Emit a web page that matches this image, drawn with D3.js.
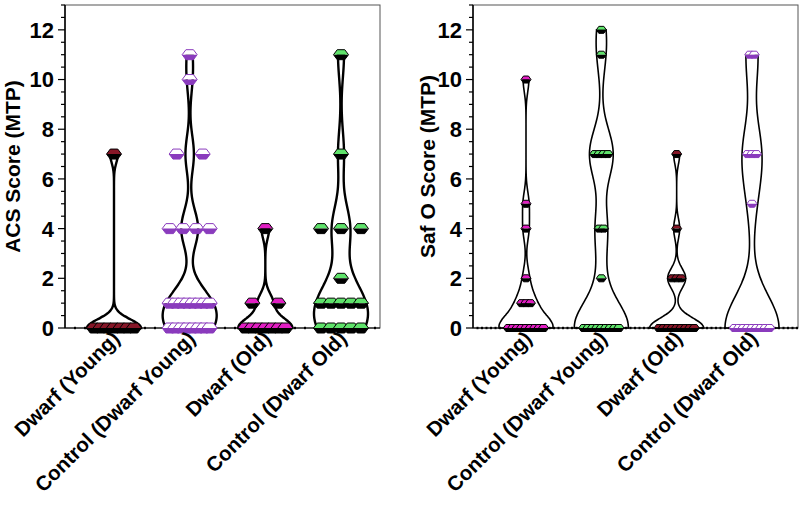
<!DOCTYPE html>
<html><head><meta charset="utf-8">
<script src="https://cdn.jsdelivr.net/npm/d3@7"></script>
<style>body{margin:0;background:#fff;} svg{display:block;} text{font-family:"Liberation Sans",Arial,sans-serif;font-weight:bold;}</style>
</head><body>
<svg id="c" width="800" height="505"></svg>
<script>
// ---- data ----
const categories = ["Dwarf (Young)", "Control (Dwarf Young)", "Dwarf (Old)", "Control (Dwarf Old)"];
const yTicks = [0, 2, 4, 6, 8, 10, 12];

const acsDwarfYoung   = [0,0,0,0,0,0,0, 7];
const acsControlYoung = [0,0,0,0,0,0,0,0, 1,1,1,1,1,1,1,1, 4,4,4,4, 7,7, 10, 11];
const acsDwarfOld     = [0,0,0,0,0,0,0, 1,1, 4];
const acsControlOld   = [0,0,0,0,0, 1,1,1,1,1, 2, 4,4,4, 7, 11];

const safDwarfYoung   = [0,0,0,0,0,0,0,0,0, 1,1,1, 2, 4, 5, 10];
const safControlYoung = [0,0,0,0,0,0,0,0,0, 2, 4,4, 7,7,7,7, 11, 12];
const safDwarfOld     = [0,0,0,0,0,0,0,0,0, 2,2,2, 4, 7];
const safControlOld   = [0,0,0,0,0,0,0,0,0, 5, 7,7,7, 11,11];

// kernel bandwidths for each violin
const acsBandwidth = [0.35, 0.75, 0.4, 0.95];
const safBandwidth = [0.5, 1.0, 0.4, 1.3];

// ---- styles ----
const C_RED = "#861627", C_PURPLE = "#8a3bbd", C_MAG = "#e21ec3", C_GREEN = "#5fe36b";
const acsStyles = [
  {fill: C_RED, dark: "#000"}, {fill: "#fff", dark: C_PURPLE},
  {fill: C_MAG, dark: "#000"}, {fill: C_GREEN, dark: "#000"}];
const safStyles = [
  {fill: C_MAG, dark: "#000"}, {fill: C_GREEN, dark: "#000"},
  {fill: C_RED, dark: "#000"}, {fill: "#fff", dark: C_PURPLE}];

const svg = d3.select("#c");

function kde(values, h, lo, hi) {
  const grid = d3.range(lo, hi + 1e-9, (hi - lo) / 120);
  return grid.map(v => ({v, d: d3.sum(values, x => Math.exp(-0.5 * ((v - x) / h) ** 2))}));
}

function hexPath(w, h) {
  return {
    top: `M${-w/2},0 L${-w/4},${-h/2} L${w/4},${-h/2} L${w/2},0 Z`,
    bottom: `M${-w/2},0 L${w/2},0 L${w/4},${h/2} L${-w/4},${h/2} Z`,
    full: `M${-w/2},0 L${-w/4},${-h/2} L${w/4},${-h/2} L${w/2},0 L${w/4},${h/2} L${-w/4},${h/2} Z`
  };
}

function panel(opt) {
  const g = svg.append("g");
  const y = d3.scaleLinear().domain([0, 13]).range([328, 5]);
  const x = d3.scalePoint().domain(categories).range(opt.centers);

  g.append("rect").attr("x", opt.left).attr("y", y(13)).attr("width", opt.right - opt.left)
    .attr("height", y(0) - y(13)).attr("fill", "none").attr("stroke", "#555").attr("stroke-width", 1);

  opt.groups.forEach((vals, i) => {
    const lo = d3.min(vals), hi = d3.max(vals);
    const dens = kde(vals, opt.bw[i], lo, hi);
    const mx = d3.max(dens, d => d.d);
    const cx = x(categories[i]);
    const area = d3.area()
      .y(d => y(d.v))
      .x0(d => cx - d.d / mx * opt.halfW)
      .x1(d => cx + d.d / mx * opt.halfW)
      .curve(d3.curveCatmullRom);
    g.append("path").attr("d", area(dens)).attr("fill", "#fff")
      .attr("stroke", "#000").attr("stroke-width", opt.violinStroke);
  });

  g.append("line").attr("x1", opt.left).attr("x2", opt.right).attr("y1", y(0)).attr("y2", y(0))
    .attr("stroke", "#000").attr("stroke-width", 1.2);
  g.selectAll(".dot").data(d3.range(opt.left + opt.dotStep, opt.right, opt.dotStep)).join("rect")
    .attr("x", d => d - 1).attr("y", y(0) - 1.2).attr("width", 2).attr("height", 2.4).attr("fill", "#000");

  const hp = hexPath(opt.mw, opt.mh);
  opt.groups.forEach((vals, i) => {
    const cx = x(categories[i]);
    const st = opt.styles[i];
    d3.groups(vals, v => v).forEach(([v, arr]) => {
      const n = arr.length;
      const sp = n > 1 ? opt.spacing(n) : 0;
      arr.forEach((_, k) => {
        const px = cx + (k - (n - 1) / 2) * sp;
        const m = g.append("g").attr("transform", `translate(${px},${y(v)})`);
        m.append("path").attr("d", hp.top).attr("fill", st.fill);
        m.append("path").attr("d", hp.bottom).attr("fill", st.dark);
        m.append("path").attr("d", hp.full).attr("fill", "none").attr("stroke", st.dark).attr("stroke-width", 1);
      });
    });
  });

  g.append("line").attr("x1", opt.left).attr("x2", opt.left).attr("y1", y(0)).attr("y2", y(13))
    .attr("stroke", "#000").attr("stroke-width", 1.5);
  g.selectAll(".minor").data(d3.range(0, 13.01, 0.5)).join("line")
    .attr("x1", d => opt.left - (d % 2 === 0 ? 7 : 4)).attr("x2", opt.left)
    .attr("y1", d => y(d)).attr("y2", d => y(d)).attr("stroke", "#000").attr("stroke-width", 1.2);
  g.selectAll(".tl").data(yTicks).join("text")
    .attr("x", opt.left - 11).attr("y", d => y(d)).attr("dy", "0.36em").attr("text-anchor", "end")
    .attr("font-size", 22).text(d => d);

  g.append("text").attr("transform", `translate(${opt.titleX},${y(6.5)}) rotate(-90)`)
    .attr("text-anchor", "middle").attr("font-size", 21).text(opt.title);

  categories.forEach(c => {
    g.append("text").attr("transform", `translate(${x(c) + 7},${340}) rotate(-45)`)
      .attr("text-anchor", "end").attr("font-size", 20.5).text(c);
  });
}

panel({
  left: 65, right: 380, centers: [114, 341], groups: [acsDwarfYoung, acsControlYoung, acsDwarfOld, acsControlOld],
  bw: acsBandwidth, styles: acsStyles, halfW: 27, violinStroke: 2.4, mw: 15, mh: 10,
  spacing: n => Math.min(26, 40 / (n - 1)), dotStep: 10, title: "ACS Score (MTP)", titleX: 20
});
panel({
  left: 473, right: 798, centers: [526, 752], groups: [safDwarfYoung, safControlYoung, safDwarfOld, safControlOld],
  bw: safBandwidth, styles: safStyles, halfW: 27, violinStroke: 1.6, mw: 10, mh: 7,
  spacing: n => 4.4, dotStep: 4.5, title: "Saf O Score (MTP)", titleX: 435
});
</script>
</body></html>
